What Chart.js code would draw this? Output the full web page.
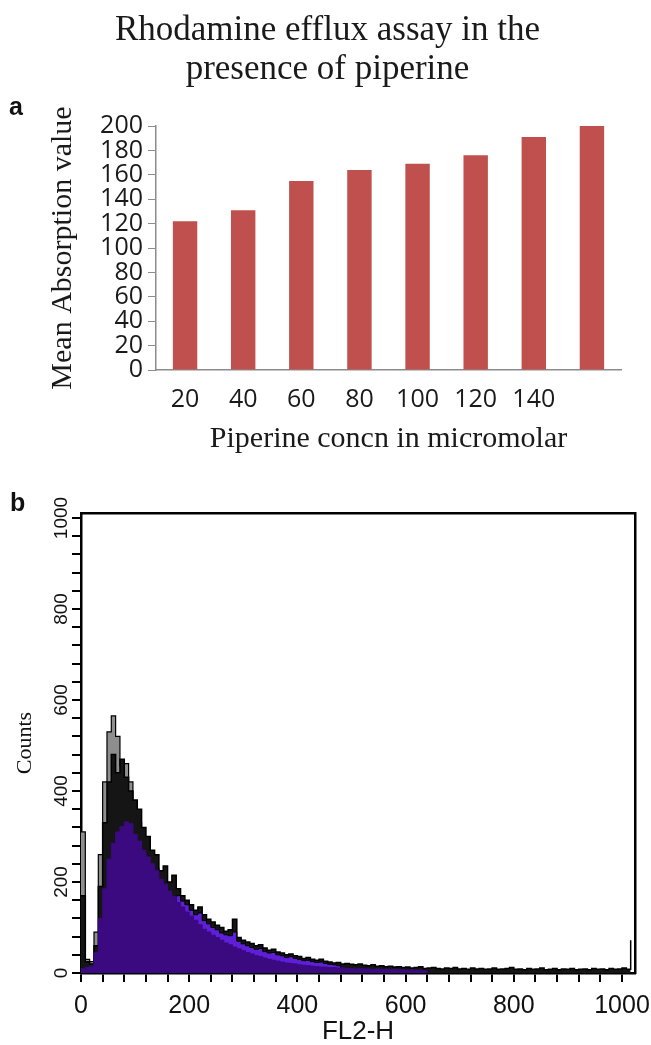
<!DOCTYPE html>
<html>
<head>
<meta charset="utf-8">
<script src="https://cdn.jsdelivr.net/npm/chart.js"></script>
<style>
  body { margin: 0; background: #fff; width: 651px; height: 1045px; position: relative; overflow: hidden; }
  .box { position: absolute; left: 0; width: 651px; }
  #boxA { top: 0; height: 470px; }
  #boxB { top: 470px; height: 575px; }
  canvas { display: block; }
  .tag { position: absolute; font-family: 'Liberation Sans', Arial, sans-serif; font-weight: bold; font-size: 25px; color: #111; line-height: 1; }
</style>
</head>
<body>
<div class="box" id="boxA"><canvas id="chartA" width="651" height="470"></canvas></div>
<div class="box" id="boxB"><canvas id="chartB" width="651" height="575"></canvas></div>
<div class="tag" style="left:9px; top:94px;">a</div>
<div class="tag" style="left:10px; top:490px;">b</div>

<script>
// ---- panel a : bar chart ----
var concLabels = ["20", "40", "60", "80", "100", "120", "140", ""];
var meanAbsorption = [122, 131, 155, 164, 169, 176, 191, 200];
var titleLines = ["Rhodamine efflux assay in the", "presence of piperine"];

// ---- panel b : FL2-H histogram overlay (8 channel bins) ----
var BIN = 8;
var channelBins = [];
for (var i = 0; i < 128; i++) channelBins.push(i * BIN);

// front, dark purple
var purpleCounts = [
  10, 12, 15, 45, 120, 185, 250, 285, 310, 322, 332, 328, 305, 290, 270, 255,
  240, 225, 206, 195, 180, 168, 155, 145, 134, 125, 116, 106, 96, 90, 83, 78,
  72, 66, 62, 57, 53, 49, 45, 42, 38, 36, 33, 30, 28, 26, 24, 22,
  21, 20, 18, 17, 16, 15, 14, 13, 13, 12, 12, 11, 11, 10, 10, 9,
  10, 9, 9, 8, 9, 8, 8, 7, 8, 7, 7, 6, 7, 6, 6, 5,
  0
];
// bright purple tail showing between front and outline
var brightCounts = [
  0, 0, 0, 0, 0, 0, 0, 0, 0, 0, 0, 0, 0, 0, 0, 0,
  0, 0, 0, 0, 0, 0, 170, 158, 150, 138, 128, 132, 115, 108, 100, 95,
  88, 84, 82, 90, 70, 64, 60, 56, 52, 54, 47, 44, 45, 40, 38, 34,
  36, 32, 30, 27, 28, 25, 23, 24, 21, 19, 18, 16, 0
];
// black outlined histogram
var outlineCounts = [
  170, 25, 20, 60, 190, 330, 420, 480, 440, 470, 430, 400, 380, 360, 320, 300,
  270, 260, 225, 235, 200, 215, 185, 170, 160, 150, 138, 145, 128, 118, 112, 105,
  100, 92, 95, 118, 78, 72, 68, 65, 60, 62, 55, 50, 52, 46, 44, 40,
  42, 38, 36, 32, 34, 30, 28, 30, 26, 24, 22, 23, 20, 21, 19, 18,
  20, 17, 16, 18, 15, 16, 14, 15, 13, 14, 12, 13, 11, 12, 14, 10,
  11, 12, 10, 9, 11, 10, 12, 9, 10, 8, 11, 9, 10, 8, 9, 11,
  8, 9, 10, 12, 8, 9, 7, 10, 8, 9, 11, 7, 8, 10, 7, 9,
  8, 10, 7, 8, 9, 7, 10, 8, 9, 7, 10, 8, 9, 11, 8, 72
];
// grey control histogram at the back
var grayCounts = [
  310, 30, 25, 90, 260, 420, 530, 565, 520, 455, 460, 420, 370, 330, 300, 265,
  245, 230, 210, 200, 185, 170, 160, 150, 140, 130, 125, 120, 110, 100, 95, 90,
  82, 78, 74, 70, 64, 60, 0
];

var serif = "'Liberation Serif', 'Times New Roman', serif";
var sansA = "'Open Sans', 'Liberation Sans', sans-serif";
var sansB = "'Liberation Sans', Arial, sans-serif";

new Chart("chartA", {
  type: "bar",
  data: {
    labels: concLabels,
    datasets: [{
      data: meanAbsorption,
      backgroundColor: "#c0504d",
      barPercentage: 0.42,
      categoryPercentage: 1
    }]
  },
  options: {
    responsive: false,
    animation: false,
    layout: { padding: { left: 4, right: 0, top: 0, bottom: 0 } },
    plugins: {
      legend: { display: false },
      tooltip: { enabled: false },
      title: {
        display: true,
        text: titleLines,
        color: "#1a1a1a",
        font: { family: serif, size: 35, weight: "normal", lineHeight: 1.1 },
        padding: { top: 12, bottom: 37 }
      }
    },
    scales: {
      x: {
        grid: { display: false, drawTicks: false },
        border: { color: "#8c8c8c", width: 1.5 },
        ticks: { color: "#1a1a1a", font: { family: sansA, size: 25 }, padding: 15, maxRotation: 0, autoSkip: false },
        title: {
          display: true, text: "Piperine concn in micromolar", color: "#1a1a1a",
          font: { family: serif, size: 30, lineHeight: 1 }, padding: { top: 0, bottom: 16 }
        },
        afterFit: function (s) { s.height = 100; s.paddingLeft = 0; s.paddingRight = 0; }
      },
      y: {
        min: 0, max: 200,
        ticks: { stepSize: 20, autoSkip: false, color: "#1a1a1a", font: { family: sansA, size: 25, lineHeight: 1 }, padding: 5 },
        grid: { drawOnChartArea: false, drawTicks: true, tickLength: 8, color: "#8c8c8c" },
        border: { color: "#8c8c8c", width: 1.5 },
        title: {
          display: true, text: "Mean Absorption value", color: "#1a1a1a",
          font: { family: serif, size: 30, lineHeight: 1 }, padding: { top: 44, bottom: 0 }
        },
        afterFit: function (s) { s.width = 152; s.paddingTop = 0; s.paddingBottom = 0; }
      },
      yRight: {
        position: "right", min: 0, max: 200,
        ticks: { display: false }, grid: { display: false }, border: { display: false },
        afterFit: function (s) { s.width = 30; }
      }
    }
  }
});

function histSet(data, fillColor, lineColor, width) {
  return {
    data: data,
    backgroundColor: fillColor,
    borderColor: lineColor,
    borderWidth: width,
    fill: "origin",
    stepped: true,
    pointRadius: 0,
    tension: 0
  };
}

var everyTwoHundred = function (v) { return v % 200 === 0 ? String(v) : ""; };

new Chart("chartB", {
  type: "line",
  data: {
    labels: channelBins,
    datasets: [
      histSet(purpleCounts, "#3b0a80", "#3b0a80", 1),
      histSet(brightCounts, "#5e1fd6", "#000", 1),
      histSet(outlineCounts, "#151515", "#000", 1.5),
      histSet(grayCounts, "#8e8e8e", "#000", 1.2)
    ]
  },
  options: {
    responsive: false,
    animation: false,
    layout: { padding: 0 },
    plugins: { legend: { display: false }, tooltip: { enabled: false } },
    scales: {
      x: {
        type: "linear", min: 0, max: 1024,
        ticks: { stepSize: 40, includeBounds: false, autoSkip: false, maxRotation: 0, callback: everyTwoHundred,
                 color: "#111", font: { family: sansB, size: 25 }, padding: 9 },
        grid: { drawOnChartArea: false, tickLength: 9, color: "#000", lineWidth: 2 },
        border: { color: "#000", width: 2.5 },
        title: { display: true, text: "FL2-H", color: "#111", font: { family: sansB, size: 26, lineHeight: 1 }, padding: { top: 0, bottom: 0 } },
        afterFit: function (s) { s.height = 72; s.paddingLeft = 0; s.paddingRight = 0; }
      },
      y: {
        min: 0, max: 1011,
        ticks: { stepSize: 40, includeBounds: false, autoSkip: false, callback: everyTwoHundred,
                 minRotation: 90, maxRotation: 90, crossAlign: "center", padding: -11,
                 color: "#111", font: { family: sansB, size: 19 } },
        grid: { drawOnChartArea: false, tickLength: 9, color: "#000", lineWidth: 2 },
        border: { color: "#000", width: 2.5 },
        title: { display: true, text: "Counts", color: "#111", font: { family: serif, size: 22, lineHeight: 1 }, padding: { top: 14, bottom: 0 } },
        afterFit: function (s) { s.width = 81; s.paddingTop = 0; s.paddingBottom = 0; }
      },
      x2: {
        type: "linear", position: "top", min: 0, max: 1024,
        ticks: { display: false }, grid: { display: false },
        border: { color: "#000", width: 2.5 },
        afterFit: function (s) { s.height = 43; }
      },
      y2: {
        type: "linear", position: "right", min: 0, max: 1011,
        ticks: { display: false }, grid: { display: false },
        border: { color: "#000", width: 2.5 },
        afterFit: function (s) { s.width = 16; }
      }
    }
  }
});
</script>
</body>
</html>
